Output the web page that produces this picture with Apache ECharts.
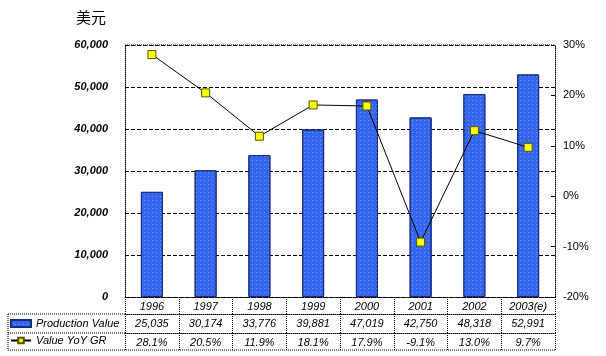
<!DOCTYPE html>
<html><head><meta charset="utf-8">
<script src="https://cdn.jsdelivr.net/npm/echarts@6/dist/echarts.min.js"></script>
<style>html,body{margin:0;padding:0;background:#fff}#c{width:606px;height:356px}</style>
</head><body><div id="c"></div>
<script>
const categories = ['1996','1997','1998','1999','2000','2001','2002','2003(e)'];
const productionValue = [25035, 30174, 33776, 39881, 47019, 42750, 48318, 52991];
const yoyGrowth = [28.1, 20.5, 11.9, 18.1, 17.9, -9.1, 13.0, 9.7];
const leftTicks = [0, 10000, 20000, 30000, 40000, 50000, 60000];
const rightTicks = [-20, -10, 0, 10, 20, 30];

const fmtNum = v => v.toLocaleString('en-US');
const fmtPct = v => v.toFixed(1) + '%';
const FONT = 'Liberation Sans';
const GL = 125, GR = 555, GT = 45, GB = 297;

const chart = echarts.init(document.getElementById('c'));
const dotted = {color: '#000', type: 'dotted', width: 1};
const xLabel = {margin: 4, fontSize: 11, fontStyle: 'italic', color: '#000', fontFamily: FONT};
chart.setOption({
  animation: false,
  textStyle: {fontFamily: FONT},
  title: {text: '美元', left: 71, top: 5, textStyle: {fontFamily: 'Noto Sans CJK SC', fontSize: 15, fontWeight: 'normal', color: '#000'}},
  grid: {left: GL, right: 606 - GR, top: GT, bottom: 356 - GB, containLabel: false},
  legend: {
    orient: 'vertical', left: 10, top: 318, itemGap: 6, itemWidth: 20, itemHeight: 7, padding: 0,
    textStyle: {fontFamily: FONT, fontSize: 11, fontStyle: 'italic', color: '#000'},
    selectedMode: false,
    data: [
      {name: 'Production Value', icon: 'rect'},
      {name: 'Value YoY GR'}
    ]
  },
  xAxis: [
    {type: 'category', data: categories, position: 'bottom', offset: 0,
     axisLine: {show: true, onZero: false, lineStyle: dotted}, axisTick: {show: true, length: 17, lineStyle: dotted},
     axisLabel: xLabel},
    {type: 'category', data: productionValue.map(fmtNum), position: 'bottom', offset: 17,
     axisLine: {show: true, onZero: false, lineStyle: dotted}, axisTick: {show: true, length: 19, lineStyle: dotted},
     axisLabel: xLabel},
    {type: 'category', data: yoyGrowth.map(fmtPct), position: 'bottom', offset: 36,
     axisLine: {show: true, onZero: false, lineStyle: dotted}, axisTick: {show: true, length: 17, lineStyle: dotted},
     axisLabel: xLabel}
  ],
  yAxis: [
    {type: 'value', min: leftTicks[0], max: leftTicks[leftTicks.length - 1], interval: 10000, position: 'left',
     axisLine: {show: true, lineStyle: dotted}, axisTick: {show: false},
     axisLabel: {margin: 17, fontSize: 11, fontStyle: 'italic', fontWeight: 'bold', color: '#000', fontFamily: FONT, formatter: v => fmtNum(v)},
     splitLine: {show: true, lineStyle: {color: '#000', type: [4, 2], width: 1}}},
    {type: 'value', min: rightTicks[0], max: rightTicks[rightTicks.length - 1], interval: 10, position: 'right',
     axisLine: {show: true, lineStyle: dotted}, axisTick: {show: true, inside: true, length: 4, lineStyle: {color: '#000'}},
     axisLabel: {margin: 8, fontSize: 11, color: '#000', fontFamily: FONT, formatter: v => v + '%'},
     splitLine: {show: false}}
  ],
  graphic: [
    {type: 'line', shape: {x1: GL, y1: GT, x2: GR, y2: GT}, style: {stroke: '#000', lineDash: [1, 1]}, silent: true},
    {type: 'line', shape: {x1: 8, y1: 314, x2: GL, y2: 314}, style: {stroke: '#000', lineDash: [1, 1]}, silent: true},
    {type: 'line', shape: {x1: 8, y1: 333, x2: GL, y2: 333}, style: {stroke: '#000', lineDash: [1, 1]}, silent: true},
    {type: 'line', shape: {x1: 8, y1: 350, x2: GR, y2: 350}, style: {stroke: '#000', lineDash: [1, 1]}, silent: true},
    {type: 'line', shape: {x1: 8, y1: 314, x2: 8, y2: 350}, style: {stroke: '#000', lineDash: [1, 1]}, silent: true}
  ],
  series: [
    {name: 'Production Value', type: 'bar', data: productionValue, barWidth: 22, xAxisIndex: 0, yAxisIndex: 0,
     itemStyle: {color: '#3566ee', borderColor: '#1b2b7a', borderWidth: 1,
       decal: {symbol: 'rect', symbolSize: 1, color: 'rgba(170,190,255,0.55)', dashArrayX: [[1, 3]], dashArrayY: [1, 3], rotation: 0}}},
    {name: 'Value YoY GR', type: 'line', data: yoyGrowth, xAxisIndex: 0, yAxisIndex: 1,
     symbol: 'rect', symbolSize: 8, lineStyle: {color: '#000', width: 1},
     itemStyle: {color: '#ffff00', borderColor: '#555500', borderWidth: 1}, z: 5}
  ]
});
</script></body></html>
